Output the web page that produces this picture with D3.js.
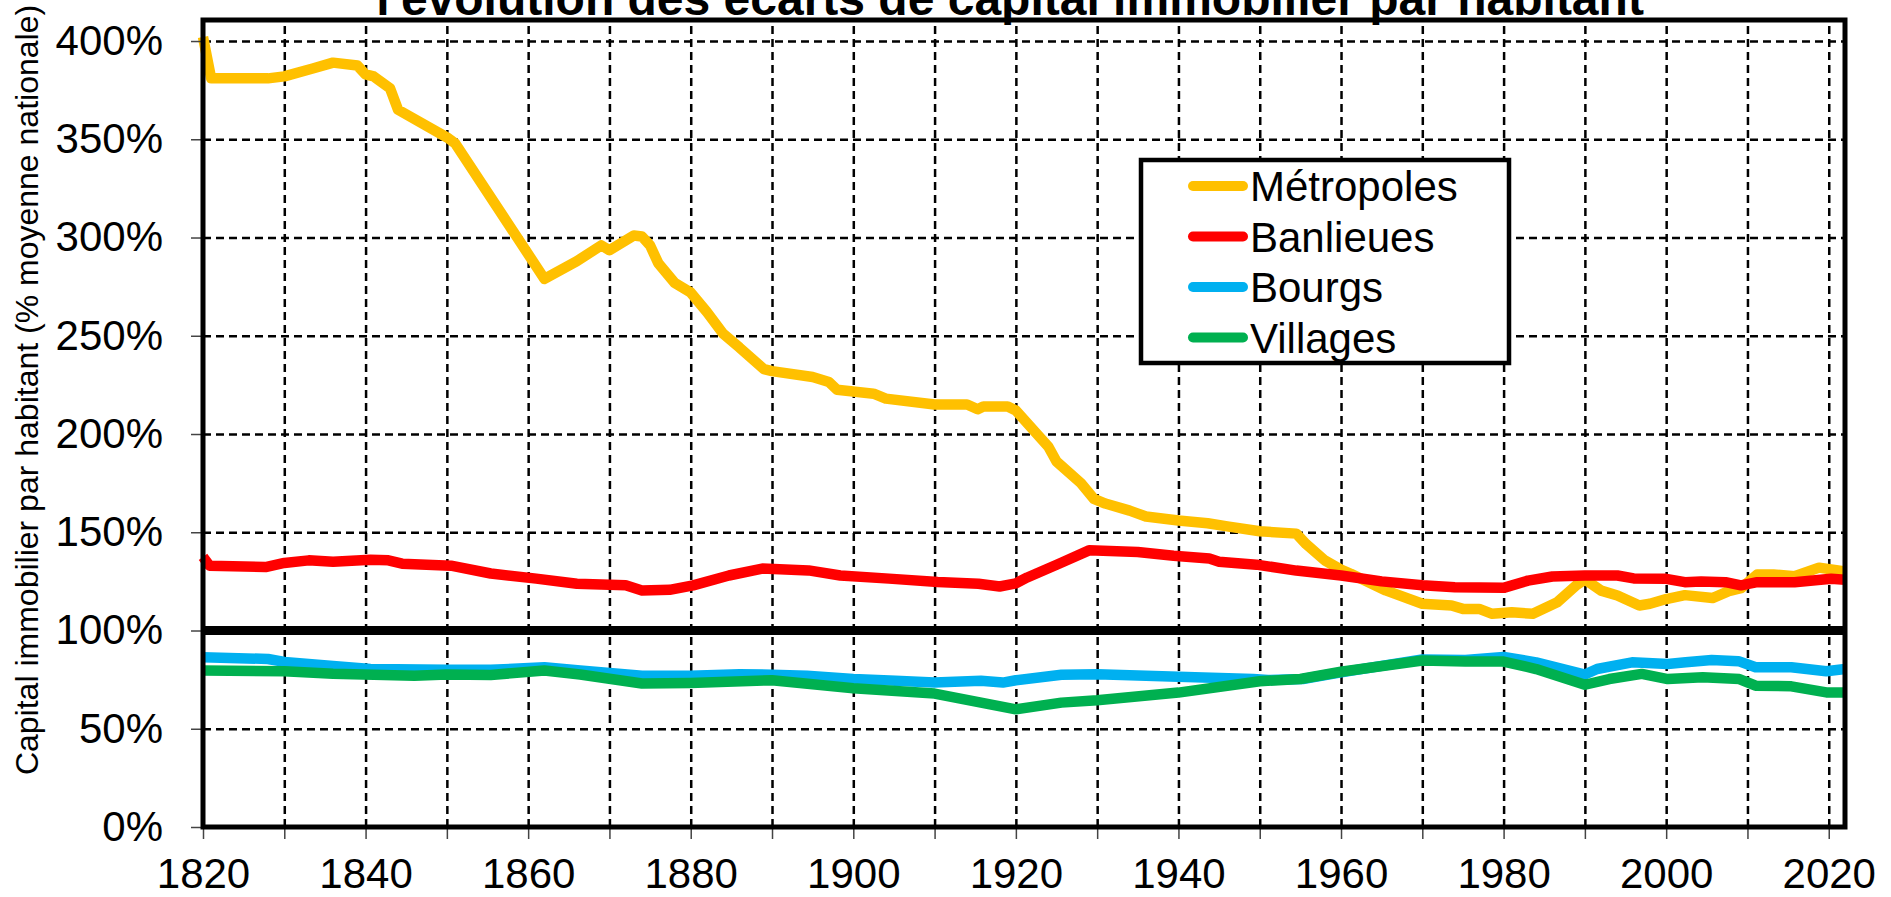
<!DOCTYPE html>
<html>
<head>
<meta charset="utf-8">
<script src="https://cdn.jsdelivr.net/npm/d3@7"></script>
<style>
  body { margin: 0; background: #fff; }
  text { font-family: "Liberation Sans", Arial, sans-serif; }
</style>
</head>
<body>
<div id="chart"></div>
<script>
// values: [year, % of national average]
const metropoles = [
  [1820, 402], [1821, 381], [1825, 381], [1828, 381], [1830, 382], [1833.5, 386], [1836, 389],
  [1839, 387.5], [1840, 383], [1841, 382], [1843, 376], [1844, 365], [1850, 351], [1851, 348],
  [1862, 279], [1866, 288], [1869, 296], [1870, 293.5], [1873, 301], [1874, 300.5], [1875, 296],
  [1876, 287], [1877, 282], [1878, 277], [1880, 272], [1882, 262], [1884, 251], [1886, 244],
  [1889, 233], [1890, 232], [1895, 229], [1897, 226.5], [1898, 222.5], [1902.5, 220.5], [1904, 218],
  [1910, 215], [1914, 215], [1915.3, 212.6], [1916, 214], [1919, 214], [1920, 212], [1924, 193.5],
  [1925, 186], [1928, 175], [1929.6, 167], [1931, 164.6], [1934, 161], [1936, 158], [1940, 156],
  [1943.6, 154.6], [1946, 153], [1950, 150.5], [1954.5, 149.3], [1955.7, 144], [1958, 135.7],
  [1960, 131], [1961.2, 128.9], [1965.5, 120.4], [1970, 113.6], [1973.6, 112.7], [1975, 111],
  [1977, 111], [1978.6, 108.5], [1981, 109.3], [1983.6, 108.5], [1986.6, 114.4], [1989, 123.2],
  [1990, 126], [1992, 120.3], [1994, 117.8], [1996.7, 112.7], [1998, 113.6], [2000, 116],
  [2002.3, 118], [2005.7, 116.5], [2007.7, 120], [2009.2, 121.5], [2011.2, 128.5], [2013.2, 128.5],
  [2015.8, 127.6], [2018.8, 132], [2022, 130]
];
const banlieues = [
  [1820, 137.5], [1820.8, 133], [1827.7, 132.3], [1830, 134.4], [1833, 135.7], [1836, 135],
  [1840.6, 136], [1842.8, 135.7], [1844.5, 134], [1850.5, 133], [1855.4, 129], [1861, 126.4],
  [1866, 123.8], [1872, 123], [1874, 120.4], [1877.4, 120.7], [1880.3, 123], [1884.7, 128],
  [1888.8, 131.5], [1894.5, 130.6], [1898.4, 128], [1904.4, 126.4], [1910.4, 124.7], [1915.4, 123.8],
  [1918, 122.4], [1920, 124], [1921.4, 127], [1925.3, 134], [1929, 140.8], [1935, 140],
  [1939.4, 138], [1943.8, 136.6], [1945, 135], [1949.6, 133.5], [1954.5, 130.5], [1960, 128],
  [1965, 125], [1970, 123], [1974, 122], [1980, 121.7], [1983, 125.4], [1986, 127.5], [1990, 128],
  [1994, 128], [1996, 126.5], [2000, 126.3], [2002.3, 124.6], [2004.3, 125], [2007.3, 124.6],
  [2009.2, 123], [2011.2, 124.6], [2015.8, 124.6], [2020.3, 126.3], [2022, 125.8]
];
const bourgs = [
  [1820, 86.4], [1828, 85.5], [1830, 84], [1836, 82], [1840.6, 80.4], [1850, 80], [1855.4, 80],
  [1862, 81.3], [1866.4, 79.6], [1874, 77], [1880, 77], [1886, 77.8], [1890, 77.5], [1894.3, 77],
  [1900, 75.3], [1905.2, 74.4], [1910, 73.5], [1915.7, 74.4], [1918.4, 73.5], [1920, 74.7],
  [1925.6, 77.5], [1930, 77.8], [1940, 76.5], [1949.2, 75.3], [1951, 74.8], [1955.3, 75.3],
  [1960, 78.7], [1970, 85.3], [1975.3, 85], [1980, 86.5], [1984, 83.8], [1990, 77.6], [1991.5, 80.4],
  [1995.8, 83.8], [2000.2, 83], [2002.4, 83.8], [2005.6, 85], [2008.9, 84.4], [2011, 81.3],
  [2015.4, 81.3], [2019.7, 79.3], [2022, 80.4]
];
const villages = [
  [1820, 79.6], [1830, 79.3], [1836, 78], [1846, 77], [1850, 77.6], [1855.4, 77.4], [1862, 79.6],
  [1866.4, 77.6], [1874, 73], [1880, 73.3], [1890, 74.7], [1900, 70.6], [1910, 67.9], [1920, 59.9],
  [1925.6, 63.3], [1930, 64.5], [1940, 68.4], [1950, 74.2], [1955, 75.3], [1960, 79], [1970, 84.7],
  [1975.3, 84.2], [1980, 84.2], [1984, 80.4], [1990, 72.4], [1993, 75.3], [1997, 77.9],
  [2000.2, 75.3], [2004.5, 76.2], [2009, 75.3], [2011, 71.9], [2015.4, 71.6], [2019.7, 68.5],
  [2022, 68.5]
];

const seriesNames = ["Métropoles", "Banlieues", "Bourgs", "Villages"];
const seriesColors = ["#FFC000", "#FF0000", "#00B0F0", "#00B050"];
const seriesData = [metropoles, banlieues, bourgs, villages];

const yTicks = [0, 50, 100, 150, 200, 250, 300, 350, 400];
const xTicks = d3.range(1820, 2021, 10);
const xLabels = [1820, 1840, 1860, 1880, 1900, 1920, 1940, 1960, 1980, 2000, 2020];

const titleText = "l'évolution des écarts de capital immobilier par habitant";
const yTitle = "Capital immobilier par habitant (% moyenne nationale)";

const W = 1891, H = 897;
const margin = { top: 20, right: 46, bottom: 70, left: 203 },
      width = W - margin.left - margin.right,
      height = H - margin.top - margin.bottom;

const svgRoot = d3.select("#chart").append("svg")
    .attr("width", W)
    .attr("height", H);

const svg = svgRoot.append("g")
    .attr("transform", `translate(${margin.left},${margin.top})`);

const x = d3.scaleLinear().domain([1820, 2022]).range([0, width]);
const y = d3.scaleLinear().domain([0, 410.7]).range([height, 0]);

// grid (dashed)
svg.append("g")
    .attr("transform", `translate(0,${height})`)
    .call(d3.axisBottom(x).tickValues(xTicks.slice(1)).tickSize(-height).tickFormat(""))
    .call(g => g.select(".domain").remove())
    .call(g => g.selectAll("line").attr("stroke", "#000").attr("stroke-width", 2.5).attr("stroke-dasharray", "8,5"));

svg.append("g")
    .call(d3.axisLeft(y).tickValues(yTicks.filter(v => v !== 0 && v !== 100)).tickSize(-width).tickFormat(""))
    .call(g => g.select(".domain").remove())
    .call(g => g.selectAll("line").attr("stroke", "#000").attr("stroke-width", 2.5).attr("stroke-dasharray", "8,5"));

// 100% reference line
svg.append("line")
    .attr("x1", 0).attr("x2", width)
    .attr("y1", y(100)).attr("y2", y(100))
    .attr("stroke", "#000").attr("stroke-width", 9);

// series
const line = d3.line().x(d => x(d[0])).y(d => y(d[1]));
seriesData.forEach((data, i) => {
    svg.append("path")
        .datum(data)
        .attr("fill", "none")
        .attr("stroke", seriesColors[i])
        .attr("stroke-width", 10.5)
        .attr("stroke-linejoin", "round")
        .attr("d", line);
});

// axes ticks + labels
svg.append("g")
    .attr("transform", `translate(0,${height})`)
    .call(d3.axisBottom(x).tickValues(xTicks).tickSize(12).tickPadding(19)
        .tickFormat(d => xLabels.includes(d) ? d : ""))
    .call(g => g.select(".domain").remove())
    .call(g => g.selectAll("line").attr("stroke", "#444").attr("stroke-width", 1.5))
    .call(g => g.selectAll("text").attr("font-size", 42).attr("fill", "#000")
        .style("font-family", "'Liberation Sans', Arial, sans-serif"));

svg.append("g")
    .call(d3.axisLeft(y).tickValues(yTicks).tickSize(12).tickPadding(28).tickFormat(d => d + "%"))
    .call(g => g.select(".domain").remove())
    .call(g => g.selectAll("line").attr("stroke", "#444").attr("stroke-width", 1.5))
    .call(g => g.selectAll("text").attr("font-size", 42).attr("fill", "#000")
        .style("font-family", "'Liberation Sans', Arial, sans-serif"));

// frame
svg.append("rect")
    .attr("x", 0).attr("y", 0)
    .attr("width", width).attr("height", height)
    .attr("fill", "none").attr("stroke", "#000").attr("stroke-width", 5);

// legend
const legend = svg.append("g")
    .attr("transform", `translate(${1141 - margin.left},${160 - margin.top})`);
legend.append("rect")
    .attr("width", 368).attr("height", 203)
    .attr("fill", "#fff").attr("stroke", "#000").attr("stroke-width", 4.5);
seriesNames.forEach((name, i) => {
    const row = legend.append("g").attr("transform", `translate(0,${26 + i * 50.5})`);
    row.append("line")
        .attr("x1", 52).attr("x2", 102)
        .attr("stroke", seriesColors[i]).attr("stroke-width", 10)
        .attr("stroke-linecap", "round");
    row.append("text")
        .attr("x", 109).attr("y", 15)
        .attr("font-size", 42)
        .text(name);
});

// titles
svgRoot.append("text")
    .attr("x", 1010).attr("y", 15)
    .attr("text-anchor", "middle")
    .attr("font-size", 48).attr("font-weight", "bold")
    .text(titleText);

svgRoot.append("text")
    .attr("transform", "translate(38,390) rotate(-90)")
    .attr("text-anchor", "middle")
    .attr("font-size", 32)
    .text(yTitle);
</script>
</body>
</html>
